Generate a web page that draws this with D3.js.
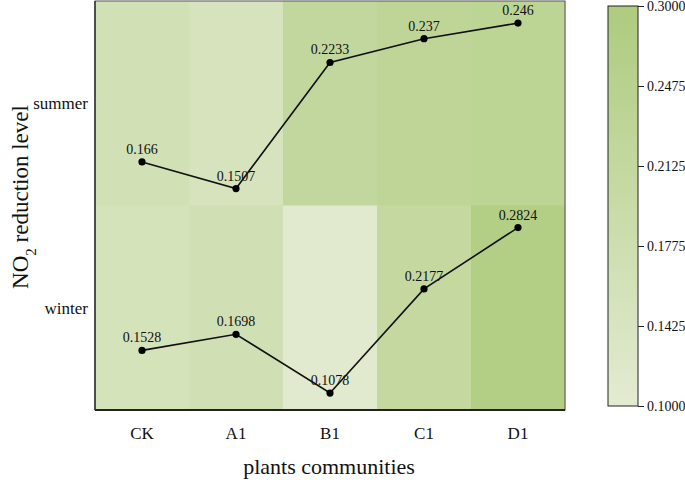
<!DOCTYPE html>
<meta charset="utf-8">
<script src="https://d3js.org/d3.v7.min.js"></script>
<style>
  body { margin: 0; background: #fff; }
  text { font-family: "Liberation Serif", "Times New Roman", serif; fill: #111; }
</style>
<div id="chart"></div>
<script>

// data
var communities = ["CK", "A1", "B1", "C1", "D1"];
var seasons = ["summer", "winter"];
var summerValues = [0.166, 0.1507, 0.2233, 0.237, 0.246];
var winterValues = [0.1528, 0.1698, 0.1078, 0.2177, 0.2824];
var summerLabels = ["0.166", "0.1507", "0.2233", "0.237", "0.246"];
var winterLabels = ["0.1528", "0.1698", "0.1078", "0.2177", "0.2824"];
var colorDomain = [0.1, 0.3];
var colorbarTicks = ["0.3000", "0.2475", "0.2125", "0.1775", "0.1425", "0.1000"];

var width = 685, height = 482;
var plot = {left: 95, right: 565, top: 1, bottom: 410};
var bar = {left: 608, right: 638, top: 6, bottom: 406};

var svg = d3.select("#chart")
  .append("svg")
    .attr("width", width)
    .attr("height", height);

var x = d3.scaleBand()
  .domain(communities)
  .range([plot.left, plot.right]);

var rows = d3.scaleBand()
  .domain(seasons)
  .range([plot.top, plot.bottom]);

var color = d3.scaleLinear()
  .domain(colorDomain)
  .range(["#e3ebd1", "#aecb7e"])
  .interpolate(d3.interpolateRgb);

var series = [
  {season: "summer", values: summerValues, labels: summerLabels},
  {season: "winter", values: winterValues, labels: winterLabels}
];

// heat cells
series.forEach(function(s) {
  svg.append("g").selectAll("rect")
    .data(s.values)
    .enter()
    .append("rect")
      .attr("x", function(d, i) { return x(communities[i]); })
      .attr("y", rows(s.season))
      .attr("width", x.bandwidth() + 0.5)
      .attr("height", rows.bandwidth() + 0.5)
      .attr("fill", function(d) { return color(d); });
});

// frame
svg.append("rect")
  .attr("x", plot.left)
  .attr("y", plot.top)
  .attr("width", plot.right - plot.left)
  .attr("height", plot.bottom - plot.top)
  .attr("fill", "none")
  .attr("stroke", "#555")
  .attr("stroke-width", 1);
svg.append("line")
  .attr("x1", plot.left).attr("x2", plot.right)
  .attr("y1", plot.bottom).attr("y2", plot.bottom)
  .attr("stroke", "#222").attr("stroke-width", 2);
svg.append("line")
  .attr("x1", plot.left).attr("x2", plot.left)
  .attr("y1", plot.top).attr("y2", plot.bottom)
  .attr("stroke", "#333").attr("stroke-width", 1.5);

// one line per season, each scaled inside its own row
series.forEach(function(s) {
  var top = rows(s.season), h = rows.bandwidth();
  var y = d3.scaleLinear()
    .domain(d3.extent(s.values))
    .range([top + h - h * 0.083, top + h * 0.108]);
  var cx = function(d, i) { return x(communities[i]) + x.bandwidth() / 2; };

  svg.append("path")
    .datum(s.values)
    .attr("fill", "none")
    .attr("stroke", "#111")
    .attr("stroke-width", 1.6)
    .attr("d", d3.line().x(cx).y(function(d) { return y(d); }));

  svg.append("g").selectAll("circle")
    .data(s.values)
    .enter()
    .append("circle")
      .attr("cx", cx)
      .attr("cy", function(d) { return y(d); })
      .attr("r", 3.6)
      .attr("fill", "#000");

  svg.append("g").selectAll("text")
    .data(s.values)
    .enter()
    .append("text")
      .attr("x", cx)
      .attr("y", function(d) { return y(d) - 8; })
      .attr("text-anchor", "middle")
      .style("font-size", "14px")
      .text(function(d, i) { return s.labels[i]; });
});

// axes labels
svg.append("g").selectAll("text")
  .data(communities)
  .enter()
  .append("text")
    .attr("x", function(d) { return x(d) + x.bandwidth() / 2; })
    .attr("y", 439)
    .attr("text-anchor", "middle")
    .style("font-size", "17px")
    .text(function(d) { return d; });

svg.append("g").selectAll("text")
  .data(seasons)
  .enter()
  .append("text")
    .attr("x", 88)
    .attr("y", function(d) { return rows(d) + rows.bandwidth() / 2; })
    .attr("dy", "0.35em")
    .attr("text-anchor", "end")
    .style("font-size", "17px")
    .text(function(d) { return d; });

svg.append("text")
  .attr("x", 329)
  .attr("y", 474)
  .attr("text-anchor", "middle")
  .style("font-size", "22px")
  .text("plants communities");

var yTitle = svg.append("text")
  .attr("transform", "translate(28," + 197 + ") rotate(-90)")
  .attr("text-anchor", "middle")
  .style("font-size", "23px");
yTitle.append("tspan").text("NO");
yTitle.append("tspan").attr("baseline-shift", "sub").style("font-size", "15px").text("2");
yTitle.append("tspan").text(" reduction level");

// colorbar
var defs = svg.append("defs");
var grad = defs.append("linearGradient")
  .attr("id", "cbar")
  .attr("x1", "0").attr("y1", "1").attr("x2", "0").attr("y2", "0");
grad.append("stop").attr("offset", "0").attr("stop-color", color(colorDomain[0]));
grad.append("stop").attr("offset", "1").attr("stop-color", color(colorDomain[1]));

svg.append("rect")
  .attr("x", bar.left)
  .attr("y", bar.top)
  .attr("width", bar.right - bar.left)
  .attr("height", bar.bottom - bar.top)
  .attr("fill", "url(#cbar)")
  .attr("stroke", "#222")
  .attr("stroke-width", 1);

var cb = d3.scalePoint()
  .domain(colorbarTicks)
  .range([bar.top, bar.bottom]);

var cbAxis = svg.append("g")
  .attr("transform", "translate(" + bar.right + ",0)")
  .call(d3.axisRight(cb).tickSize(6).tickPadding(3));
cbAxis.select(".domain").remove();
cbAxis.selectAll("line").attr("stroke", "#222");
cbAxis.selectAll("text")
  .style("font-family", "'Liberation Serif', serif")
  .style("font-size", "14px")
  .attr("fill", "#111");

</script>
